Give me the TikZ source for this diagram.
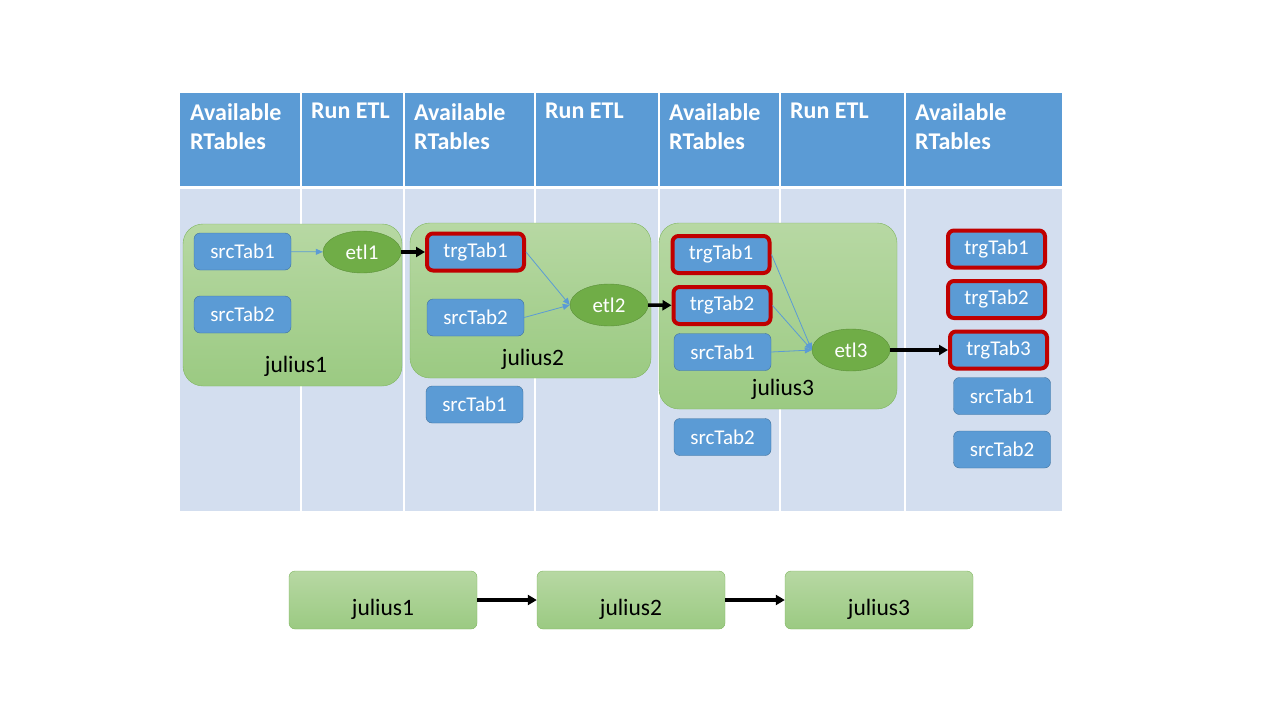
\documentclass[tikz,border=0pt]{standalone}
\usepackage{fontspec}
\setmainfont{Carlito}
\usetikzlibrary{arrows.meta,shapes.geometric}
\definecolor{hdrblue}{HTML}{5B9BD5}
\definecolor{bodyblue}{HTML}{D3DEEF}
\definecolor{tabedge}{HTML}{41719C}
\definecolor{trgred}{HTML}{C00000}
\definecolor{etlgreen}{HTML}{70AD47}
\definecolor{etledge}{HTML}{5A8F38}
\definecolor{jultop}{HTML}{B7D8A3}
\definecolor{julbot}{HTML}{9BCA82}
\definecolor{juledge}{HTML}{80B660}

\begin{document}
\begin{tikzpicture}[x=1pt,y=-1pt,
				hdr/.style={anchor=north west, text=white, inner sep=0, align=left, font=\fontsize{24}{29}\selectfont\bfseries},
				grp/.style={draw=juledge, rounded corners=20pt, top color=jultop, bottom color=julbot},
				jlabel/.style={font=\fontsize{23.5}{26}\selectfont},
				tab/.style={draw=tabedge, fill=hdrblue, rounded corners=6pt, text=white, minimum width=97, minimum height=37, inner sep=0, font=\fontsize{21}{24}\selectfont},
				trg/.style={tab, draw=trgred, line width=4pt},
				etl/.style={ellipse, draw=etledge, fill=etlgreen, text=white, minimum width=78, minimum height=42, inner sep=0, font=\fontsize{21}{24}\selectfont},
				feed/.style={draw=hdrblue, line width=0.8pt, -{Triangle[length=7pt,width=6pt]}},
				flow/.style={draw=black, line width=3.5pt, -{Triangle[length=9pt,width=10pt]}},
				step box/.style={draw=juledge, rounded corners=6pt, top color=jultop, bottom color=julbot, minimum width=188, minimum height=58, text height=30pt, text depth=0pt, font=\fontsize{23.5}{26}\selectfont},
			]
			\useasboundingbox (0,0) rectangle (1280,720);
			\fill[hdrblue] (180,93) rectangle (1062,186);
			\fill[bodyblue] (180,189) rectangle (1062,511);
			\foreach \cx in {301,404,535,659,780,905}
				\draw[white, line width=1.5pt] (\cx,93) -- (\cx,511);
			\node[hdr] (h1) at (190,103) {Available\\RTables};
			\node[hdr] (h2) at (311,103) {Run ETL};
			\node[hdr] (h3) at (414,103) {Available\\RTables};
			\node[hdr] (h4) at (545,103) {Run ETL};
			\node[hdr] (h5) at (669,103) {Available\\RTables};
			\node[hdr] (h6) at (790,103) {Run ETL};
			\node[hdr] (h7) at (915,103) {Available\\RTables};

			\node[grp, minimum width=219, minimum height=162] (jul1) at (292.5,305) {};
			\node[grp, minimum width=241, minimum height=155] (jul2) at (530.5,300.5) {};
			\node[grp, minimum width=238, minimum height=186] (jul3) at (778,316) {};
			\node[jlabel] (jul1name) at (296,366) {julius1};
			\node[jlabel] (jul2name) at (533,359) {julius2};
			\node[jlabel] (jul3name) at (783,389) {julius3};

			\node[tab] (a1src1) at (242.5,251.5) {srcTab1};
			\node[tab] (a1src2) at (242.5,314.5) {srcTab2};
			\node[etl] (etl1) at (362,252) {etl1};

			\node[trg] (a2trg1) at (475.5,252) {trgTab1};
			\node[tab] (a2src2) at (475.5,317.5) {srcTab2};
			\node[tab] (a2src1) at (474.5,404.5) {srcTab1};
			\node[etl] (etl2) at (609,305) {etl2};

			\node[trg] (a3trg1) at (721,254.5) {trgTab1};
			\node[trg] (a3trg2) at (722,305.5) {trgTab2};
			\node[tab] (a3src1) at (722.5,352) {srcTab1};
			\node[tab] (a3src2) at (722.5,437) {srcTab2};
			\node[etl] (etl3) at (851,350) {etl3};

			\node[trg] (a4trg1) at (996.5,249) {trgTab1};
			\node[trg] (a4trg2) at (996.5,299.5) {trgTab2};
			\node[trg] (a4trg3) at (998.5,350) {trgTab3};
			\node[tab] (a4src1) at (1002,396) {srcTab1};
			\node[tab] (a4src2) at (1002,449.5) {srcTab2};

			\draw[feed] (a1src1) -- (etl1);
			\draw[feed] (a2trg1.east) -- (etl2.west);
			\draw[feed] (a2src2.east) -- (etl2.west);
			\draw[feed] (a3trg1.east) -- (etl3.west);
			\draw[feed] (a3trg2.east) -- (etl3.west);
			\draw[feed] (a3src1.east) -- (etl3.west);

			\draw[flow] (etl1) -- (a2trg1);
			\draw[flow] (etl2) -- (a3trg2);
			\draw[flow] (etl3) -- (a4trg3);

			\node[step box] (run1) at (383,600) {julius1};
			\node[step box] (run2) at (631,600) {julius2};
			\node[step box] (run3) at (879,600) {julius3};
			\draw[flow] (run1) -- (run2);
			\draw[flow] (run2) -- (run3);
			\end{tikzpicture}
\end{document}
